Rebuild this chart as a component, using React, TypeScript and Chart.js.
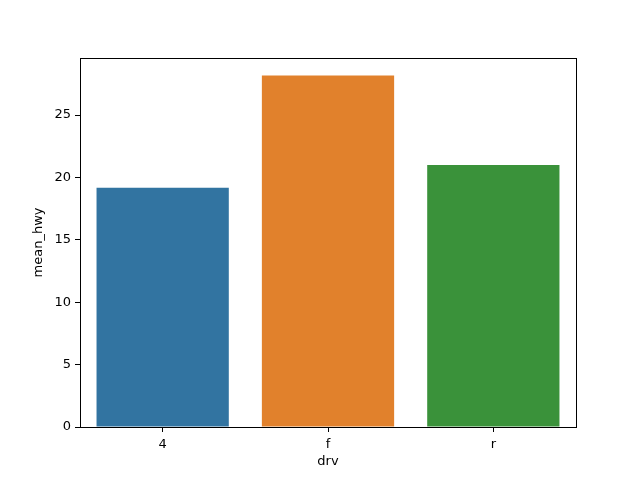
import React, { useEffect, useRef } from "react";
import { Chart, registerables } from "chart.js";

Chart.register(...registerables);

const categories = ["4", "f", "r"];
const meanHwy = [19.17, 28.16, 21.0];
const barColors = ["#3274a1", "#e1812c", "#3a923a"];
const yTicks = [0, 5, 10, 15, 20, 25];
const yMax = 29.57;
const xTitle = "drv";
const yTitle = "mean_hwy";

const FONT = "'DejaVu Sans', sans-serif";

const framePlugin = {
  id: "frame",
  afterDraw(chart: any) {
    const { ctx, chartArea } = chart;
    ctx.save();
    ctx.strokeStyle = "#000";
    ctx.lineWidth = 1;
    ctx.strokeRect(
      Math.round(chartArea.left) + 0.5,
      Math.round(chartArea.top) + 0.5,
      Math.round(chartArea.right - chartArea.left),
      Math.round(chartArea.bottom - chartArea.top)
    );
    ctx.fillStyle = "#000";
    ctx.font = `13px ${FONT}`;
    ctx.textAlign = "center";
    ctx.textBaseline = "middle";
    const cx = (chartArea.left + chartArea.right) / 2;
    const cy = (chartArea.top + chartArea.bottom) / 2;
    ctx.fillText(xTitle, cx, chartArea.bottom + 35);
    ctx.translate(chartArea.left - 41, cy);
    ctx.rotate(-Math.PI / 2);
    ctx.fillText(yTitle, 0, 0);
    ctx.restore();
  },
};

export default function App() {
  const ref = useRef<HTMLCanvasElement>(null);
  useEffect(() => {
    if (!ref.current) return;
    const chart = new Chart(ref.current, {
      type: "bar",
      data: {
        labels: categories,
        datasets: [
          {
            data: meanHwy,
            backgroundColor: barColors,
            borderWidth: 0,
            inflateAmount: 0,
            categoryPercentage: 0.8,
            barPercentage: 1,
          },
        ],
      },
      options: {
        responsive: false,
        animation: false,
        layout: { padding: { top: 58, right: 64, left: 0, bottom: 0 } },
        plugins: { legend: { display: false }, tooltip: { enabled: false } },
        scales: {
          x: {
            offset: true,
            grid: {
              offset: false,
              drawOnChartArea: false,
              drawTicks: true,
              tickLength: 5,
              color: "#000",
            },
            border: { display: true, color: "#000" },
            ticks: { color: "#000", font: { family: FONT, size: 13 }, padding: 5 },
            afterFit(scale: any) {
              scale.height = 53;
            },
          },
          y: {
            min: 0,
            max: yMax,
            grid: {
              drawOnChartArea: false,
              drawTicks: true,
              tickLength: 5,
              color: "#000",
            },
            border: { display: true, color: "#000" },
            ticks: {
              color: "#000",
              font: { family: FONT, size: 13 },
              padding: 4,
              includeBounds: false,
            },
            afterBuildTicks(scale: any) {
              scale.ticks = yTicks.map((v) => ({ value: v }));
            },
            afterFit(scale: any) {
              scale.width = 80;
            },
          },
        },
      },
      plugins: [framePlugin],
    });
    return () => chart.destroy();
  }, []);
  return (
    <div style={{ position: "fixed", left: 0, top: 0, width: 640, height: 480, background: "#fff" }}>
      <canvas ref={ref} width={640} height={480} />
    </div>
  );
}
